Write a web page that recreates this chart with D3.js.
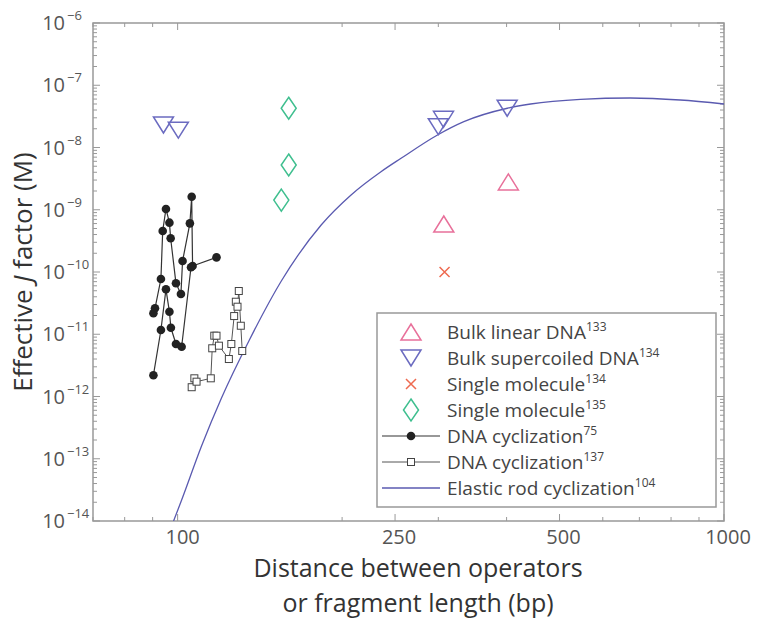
<!DOCTYPE html>
<html><head><meta charset="utf-8">
<script src="https://cdn.jsdelivr.net/npm/d3@7"></script>
<style>
html,body{margin:0;padding:0;background:#fff;}
svg{display:block;}
text{font-family:"Open Sans","Noto Sans",sans-serif;}
</style></head>
<body><svg id="c" width="762" height="623"></svg>
<script>
// ---- data ----
const xTicks = [100, 250, 500, 1000];
const yTicks = [1e-14,1e-13,1e-12,1e-11,1e-10,1e-9,1e-8,1e-7,1e-6];
const yTickExp = ["-14","-13","-12","-11","-10","-9","-8","-7","-6"];

const bulkLinearX = [307, 403];
const bulkLinearY = [5.9e-10, 2.8e-9];

const bulkSuperX = [94.2, 100.3, 300, 306.6, 401];
const bulkSuperY = [2.3e-8, 1.9e-8, 2.16e-8, 2.84e-8, 4.27e-8];

const single134X = [308];
const single134Y = [1.0e-10];

const single135X = [159.7, 159.7, 154.8];
const single135Y = [4.27e-8, 5.24e-9, 1.43e-9];

// DNA cyclization (ref 75): two connected runs
const cyc75aX = [90.3, 90.9, 93.2, 93.9, 95.2, 96.6, 97.1, 99.3, 101.4, 102.1, 105.3, 106.1, 106.5, 117.8];
const cyc75aY = [2.17e-11, 2.61e-11, 7.72e-11, 4.56e-10, 1.03e-9, 6.2e-10, 3.48e-10, 6.58e-11, 4.43e-11, 1.5e-10, 6.05e-10, 1.62e-9, 1.25e-10, 1.72e-10];
const cyc75bX = [90.3, 93.2, 95.2, 96.6, 97.2, 99.3, 101.7, 105.8];
const cyc75bY = [2.2e-12, 1.17e-11, 5.27e-11, 2.3e-11, 1.27e-11, 6.97e-12, 6.31e-12, 1.19e-10];

const cyc137X = [106.1, 107.3, 108.3, 115.0, 115.7, 116.7, 117.8, 119.0, 124.1, 125.4, 126.9, 127.8, 128.7, 129.4, 130.5, 131.3];
const cyc137Y = [1.41e-12, 1.96e-12, 1.73e-12, 1.96e-12, 5.95e-12, 9.48e-12, 9.48e-12, 6.55e-12, 4.0e-12, 6.97e-12, 1.96e-11, 3.33e-11, 2.77e-11, 4.95e-11, 1.37e-11, 5.38e-12];

const rodX = [98.3, 101.7, 110.6, 120.3, 135.3, 154.8, 183.1, 207.7, 235.6, 256.4, 299, 334.1, 401.3, 442.6, 546, 673.6, 831.6, 1000];
const rodY = [1e-14, 2.17e-14, 1.6e-13, 9.46e-13, 8.09e-12, 7.16e-11, 5.69e-10, 1.73e-9, 4.08e-9, 6.71e-9, 1.59e-8, 2.6e-8, 4.27e-8, 5.0e-8, 5.94e-8, 6.24e-8, 5.79e-8, 5.0e-8];

const legendLabels = [
  ["Bulk linear DNA","133"],
  ["Bulk supercoiled DNA","134"],
  ["Single molecule","134"],
  ["Single molecule","135"],
  ["DNA cyclization","75"],
  ["DNA cyclization","137"],
  ["Elastic rod cyclization","104"]
];

// ---- colors ----
const cPink = "#e8709a", cBlue = "#6b6bc0", cRed = "#ee6a50", cGreen = "#3fbf8f", cRod = "#5a5ab0";
const axisCol = "#999";

const svg = d3.select("#c");
const L = 93, R = 724, T = 23, B = 521;
const x = d3.scaleLog().domain([70, 1000]).range([L, R]);
const y = d3.scaleLog().domain([1e-14, 1e-6]).range([B, T]);

const plot = svg.append("g");
const defs = svg.append("defs");
defs.append("clipPath").attr("id","clip").append("rect").attr("x",L).attr("y",T).attr("width",R-L).attr("height",B-T);

// box
plot.append("rect").attr("x",L).attr("y",T).attr("width",R-L).attr("height",B-T)
  .attr("fill","none").attr("stroke",axisCol).attr("stroke-width",1.5);

// ticks (inside, all four sides)
const yMinor = [];
for (let e=-14; e<-6; e++) for (let m=2; m<=9; m++) yMinor.push(m*Math.pow(10,e));
const ga = plot.append("g").attr("stroke",axisCol).attr("stroke-width",1);
yMinor.forEach(v=>{
  ga.append("line").attr("x1",L).attr("x2",L+4).attr("y1",y(v)).attr("y2",y(v));
  ga.append("line").attr("x1",R).attr("x2",R-4).attr("y1",y(v)).attr("y2",y(v));
});
yTicks.forEach(v=>{
  ga.append("line").attr("x1",L).attr("x2",L+7).attr("y1",y(v)).attr("y2",y(v));
  ga.append("line").attr("x1",R).attr("x2",R-7).attr("y1",y(v)).attr("y2",y(v));
});
const xMinor = [70,80,90,200,300,400,600,700,800,900];
xMinor.forEach(v=>{
  ga.append("line").attr("x1",x(v)).attr("x2",x(v)).attr("y1",B).attr("y2",B-4);
  ga.append("line").attr("x1",x(v)).attr("x2",x(v)).attr("y1",T).attr("y2",T+4);
});
xTicks.forEach(v=>{
  ga.append("line").attr("x1",x(v)).attr("x2",x(v)).attr("y1",B).attr("y2",B-7);
  ga.append("line").attr("x1",x(v)).attr("x2",x(v)).attr("y1",T).attr("y2",T+7);
});

// y tick labels
yTicks.forEach((v,i)=>{
  svg.append("text").attr("x",65).attr("y",y(v)+7).attr("text-anchor","end")
    .attr("font-size",20).attr("fill","#555").text("10");
  svg.append("text").attr("x",67).attr("y",y(v)-3).attr("text-anchor","start")
    .attr("font-size",13).attr("fill","#555").text(yTickExp[i].replace("-","\u2212"));
});
// x tick labels
xTicks.forEach(v=>{
  svg.append("text").attr("x",x(v)+ (v===100?5:4)).attr("y",544).attr("text-anchor","middle")
    .attr("font-size",20).attr("fill","#555").text(v);
});

// titles
svg.append("text").attr("text-anchor","middle").attr("font-size",25).attr("fill","#333")
  .attr("x",418).attr("y",577).text("Distance between operators");
svg.append("text").attr("text-anchor","middle").attr("font-size",25).attr("fill","#333")
  .attr("x",418).attr("y",612).text("or fragment length (bp)");
const yt = svg.append("text").attr("transform","translate(32,272) rotate(-90)").attr("text-anchor","middle")
  .attr("font-size",26).attr("fill","#333");
yt.append("tspan").text("Effective ");
yt.append("tspan").attr("font-style","italic").text("J");
yt.append("tspan").text(" factor (M)");

// ---- marks ----
const data = (xs,ys)=>xs.map((d,i)=>[d,ys[i]]);
const clipG = plot.append("g").attr("clip-path","url(#clip)");
const lineGen = d3.line().x(d=>x(d[0])).y(d=>y(d[1]));

// rod curve
clipG.append("path").datum(data(rodX,rodY))
  .attr("d", d3.line().x(d=>x(d[0])).y(d=>y(d[1])).curve(d3.curveMonotoneX))
  .attr("fill","none").attr("stroke",cRod).attr("stroke-width",1.3);

// cyc 137 squares
clipG.append("path").datum(data(cyc137X,cyc137Y))
  .attr("d", lineGen).attr("fill","none").attr("stroke","#555").attr("stroke-width",1);
clipG.selectAll(".sq").data(data(cyc137X,cyc137Y)).enter().append("rect")
  .attr("x",d=>x(d[0])-3.5).attr("y",d=>y(d[1])-3.5).attr("width",7).attr("height",7)
  .attr("fill","#fff").attr("stroke","#444").attr("stroke-width",1);

// cyc 75 circles
[data(cyc75aX,cyc75aY), data(cyc75bX,cyc75bY)].forEach(run=>{
  clipG.append("path").datum(run).attr("d", lineGen)
    .attr("fill","none").attr("stroke","#333").attr("stroke-width",1.2);
  clipG.append("g").selectAll("circle").data(run).enter().append("circle")
    .attr("cx",d=>x(d[0])).attr("cy",d=>y(d[1])).attr("r",4.3).attr("fill","#222");
});

// marker shapes
const triDown = (cx,cy)=>`M${cx-10},${cy-8}L${cx+10},${cy-8}L${cx},${cy+8}Z`;
const triUp = (cx,cy)=>`M${cx-10},${cy+8}L${cx+10},${cy+8}L${cx},${cy-8}Z`;
const diamond = (cx,cy)=>`M${cx},${cy-11}L${cx+7.5},${cy}L${cx},${cy+11}L${cx-7.5},${cy}Z`;
const cross = (cx,cy)=>`M${cx-5},${cy-5}L${cx+5},${cy+5}M${cx-5},${cy+5}L${cx+5},${cy-5}`;

clipG.selectAll(".td").data(data(bulkSuperX,bulkSuperY)).enter().append("path")
  .attr("d",d=>triDown(x(d[0]),y(d[1]))).attr("fill","none").attr("stroke",cBlue).attr("stroke-width",1.5);
clipG.selectAll(".tu").data(data(bulkLinearX,bulkLinearY)).enter().append("path")
  .attr("d",d=>triUp(x(d[0]),y(d[1]))).attr("fill","none").attr("stroke",cPink).attr("stroke-width",1.5);
clipG.selectAll(".xx").data(data(single134X,single134Y)).enter().append("path")
  .attr("d",d=>cross(x(d[0]),y(d[1]))).attr("fill","none").attr("stroke",cRed).attr("stroke-width",1.5);
clipG.selectAll(".dm").data(data(single135X,single135Y)).enter().append("path")
  .attr("d",d=>diamond(x(d[0]),y(d[1]))).attr("fill","none").attr("stroke",cGreen).attr("stroke-width",1.5);

// ---- legend ----
const lg = svg.append("g");
const lx0 = 377, lx1 = 716, ly0 = 313, ly1 = 507;
lg.append("rect").attr("x",lx0).attr("y",ly0).attr("width",lx1-lx0).attr("height",ly1-ly0)
  .attr("fill","#fff").attr("stroke",axisCol).attr("stroke-width",1.5);
const rowY = i => 332 + i*26;
const mx = 411;
legendLabels.forEach((lab,i)=>{
  const cy = rowY(i);
  const t = lg.append("text").attr("x",447).attr("y",cy+7).attr("font-size",19).attr("fill","#444");
  t.append("tspan").text(lab[0]);
  t.append("tspan").attr("font-size",12).attr("dy",-8).text(lab[1]);
});
lg.append("path").attr("d",triUp(mx,rowY(0))).attr("fill","none").attr("stroke",cPink).attr("stroke-width",1.5);
lg.append("path").attr("d",triDown(mx,rowY(1))).attr("fill","none").attr("stroke",cBlue).attr("stroke-width",1.5);
lg.append("path").attr("d",cross(mx,rowY(2))).attr("fill","none").attr("stroke",cRed).attr("stroke-width",1.5);
lg.append("path").attr("d",diamond(mx,rowY(3))).attr("fill","none").attr("stroke",cGreen).attr("stroke-width",1.5);
lg.append("line").attr("x1",382).attr("x2",440).attr("y1",rowY(4)).attr("y2",rowY(4)).attr("stroke","#333").attr("stroke-width",1.2);
lg.append("circle").attr("cx",mx).attr("cy",rowY(4)).attr("r",4.3).attr("fill","#222");
lg.append("line").attr("x1",382).attr("x2",440).attr("y1",rowY(5)).attr("y2",rowY(5)).attr("stroke","#555").attr("stroke-width",1);
lg.append("rect").attr("x",mx-3.5).attr("y",rowY(5)-3.5).attr("width",7).attr("height",7).attr("fill","#fff").attr("stroke","#444");
lg.append("line").attr("x1",382).attr("x2",440).attr("y1",rowY(6)).attr("y2",rowY(6)).attr("stroke",cRod).attr("stroke-width",1.3);
</script></body></html>
